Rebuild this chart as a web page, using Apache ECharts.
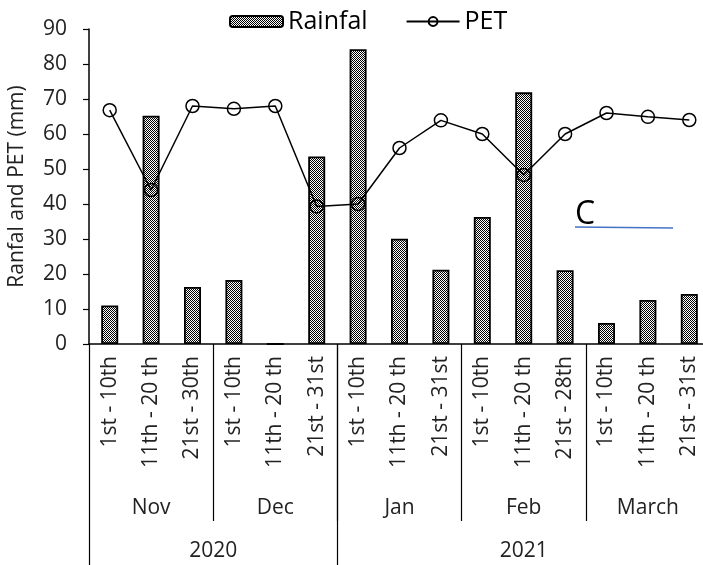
<!DOCTYPE html>
<html>
<head>
<meta charset="utf-8">
<script src="https://cdn.jsdelivr.net/npm/echarts@6/dist/echarts.min.js"></script>
<style>html,body{margin:0;padding:0;background:#fff}#c{width:703px;height:565px}</style>
</head>
<body>
<div id="c"></div>
<script>
const categories = ['1st - 10th','11th - 20 th','21st - 30th','1st - 10th','11th - 20 th','21st - 31st','1st - 10th','11th - 20 th','21st - 31st','1st - 10th','11th - 20 th','21st - 28th','1st - 10th','11th - 20 th','21st - 31st'];
const rainfall = [11, 65.2, 16.3, 18.3, 0, 53.6, 84.2, 30.1, 21.2, 36.3, 71.9, 21.1, 6, 12.6, 14.3];
const pet = [66.8, 44, 68, 67.2, 68, 39.3, 40, 56, 63.9, 60, 48.3, 60, 66, 64.9, 64];
const months = ['Nov','Dec','Jan','Feb','March'];
const monthSpans = [3,3,3,3,3];
const years = ['2020','2021'];
const yearSpans = [6,9];
const yTicks = [0,10,20,30,40,50,60,70,80,90];

const FONT = 'Open Sans';
function spanInfo(spans){
  const centers=[], bounds=[0]; let acc=0;
  spans.forEach(s=>{centers.push(acc+s/2); acc+=s; bounds.push(acc);});
  return {centers,bounds};
}
const mInfo = spanInfo(monthSpans), yInfo = spanInfo(yearSpans);

// checker pattern for bars
const pc = document.createElement('canvas'); pc.width=2; pc.height=2;
const pctx = pc.getContext('2d');
pctx.fillStyle='#fff'; pctx.fillRect(0,0,2,2);
pctx.fillStyle='#000'; pctx.fillRect(0,0,1,1); pctx.fillRect(1,1,1,1);
const pattern = {image: pc, repeat: 'repeat'};

const chart = echarts.init(document.getElementById('c'), null, {renderer:'canvas'});
chart.setOption({
  animation:false,
  textStyle:{fontFamily:FONT},
  legend:{
    left:224, top:4, itemGap:38, itemWidth:53, itemHeight:11,
    textStyle:{fontFamily:FONT,fontSize:25,color:'#000'},
    data:['Rainfal','PET']
  },
  grid:{left:89, top:29, width:621, height:315, containLabel:false, outerBoundsMode:'none'},
  yAxis:{
    type:'value', min:yTicks[0], max:yTicks[yTicks.length-1], interval:10,
    name:'Ranfal and PET (mm)', nameLocation:'middle', nameRotate:90, nameGap:61,
    nameTextStyle:{fontFamily:FONT,fontSize:21,color:'#222'},
    axisLine:{show:true,lineStyle:{color:'#000',width:1.5}},
    axisTick:{show:true,length:6,lineStyle:{color:'#000',width:1.2}},
    axisLabel:{fontFamily:FONT,fontSize:21,color:'#222',margin:22},
    splitLine:{show:false}
  },
  xAxis:[
    {
      type:'category', data:categories, position:'bottom',
      axisLine:{show:true,onZero:false,lineStyle:{color:'#000',width:1.5}},
      axisTick:{show:false},
      axisLabel:{rotate:90,interval:0,fontFamily:FONT,fontSize:21,color:'#222',margin:12}
    },
    {
      type:'value', min:0, max:15, position:'bottom',
      axisLine:{show:false}, splitLine:{show:false},
      axisTick:{show:true,customValues:mInfo.bounds.slice(1,-1),length:177,lineStyle:{color:'#000',width:1.2}},
      axisLabel:{customValues:mInfo.centers,fontFamily:FONT,fontSize:21,color:'#222',margin:154,
        formatter:v=>{const i=mInfo.centers.indexOf(v);return i>=0?months[i]:'';}}
    },
    {
      type:'value', min:0, max:15, position:'bottom',
      axisLine:{show:false}, splitLine:{show:false},
      axisTick:{show:true,customValues:[yInfo.bounds[0],yInfo.bounds[1]],length:225,lineStyle:{color:'#000',width:1.2}},
      axisLabel:{customValues:yInfo.centers,fontFamily:FONT,fontSize:21,color:'#222',margin:197,
        formatter:v=>{const i=yInfo.centers.indexOf(v);return i>=0?years[i]:'';}}
    }
  ],
  series:[
    {
      name:'Rainfal', type:'bar', xAxisIndex:0, data:rainfall, barWidth:17,
      itemStyle:{color:pattern,borderColor:'#000',borderWidth:1.8},
      emphasis:{disabled:true}
    },
    {
      name:'PET', type:'line', xAxisIndex:0, data:pet, z:5,
      symbol:'circle', symbolSize:13,
      lineStyle:{color:'#000',width:1.5},
      itemStyle:{color:'rgba(255,255,255,0)',borderColor:'#000',borderWidth:1.5},
      emphasis:{disabled:true}
    }
  ],
  graphic:[
    {type:'text', left:575, top:199, style:{text:'C', fontFamily:FONT, fontSize:32, fill:'#000'}},
    {type:'line', shape:{x1:575,y1:227,x2:673,y2:228}, style:{stroke:'#4472C4',lineWidth:1.5}}
  ]
});
</script>
</body>
</html>
